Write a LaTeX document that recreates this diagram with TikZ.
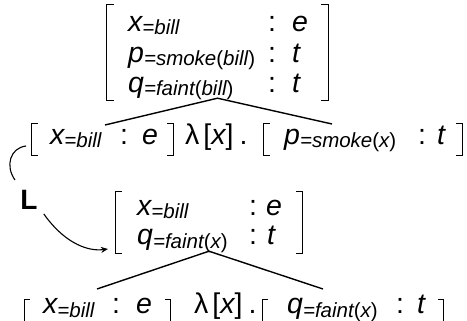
\documentclass[tikz,border=0pt]{standalone}
\usepackage{fontspec}
\setmainfont{Liberation Sans}
\usetikzlibrary{arrows.meta}
\newcommand\mfont{\fontsize{28.5}{30}\selectfont\itshape}
\newcommand\sbs[1]{\raisebox{-3pt}{\fontsize{20.5}{22}\selectfont\itshape #1}}
\newcommand\up[1]{{\upshape #1}}
\newcommand\lamx{\up{λ}\hspace{4pt}\up{[}x\up{]}\hspace{6pt}\up{.}}
\tikzset{
  txt/.style={font=\mfont, inner sep=0pt, anchor=base west},
  col/.style={font=\mfont, inner sep=0pt, anchor=base},
  brk/.style={line width=0.9pt},
  conn/.style={line width=1.4pt},
  box/.style={inner sep=0pt, draw=none},
}
\begin{document}
\begin{tikzpicture}[x=1pt,y=-1pt]
\useasboundingbox (0,0) rectangle (467,321);
% ---------- top record ----------
\node[box, minimum width=221pt, minimum height=95pt] (rec1) at (217.5,52.5) {};
\draw[brk] ([xshift=7pt]rec1.north west) -| (rec1.south west) -- ++(7,0);
\draw[brk] ([xshift=-7pt]rec1.north east) -| (rec1.south east) -- ++(-7,0);
\node[txt] (a1) at (128,32) {x\sbs{=bill}};
\node[txt] (a2) at (128,63) {p\sbs{=smoke\up{(}bill\up{)}}};
\node[txt] (a3) at (128,93) {q\sbs{=faint\up{(}bill\up{)}}};
\node[col] (a1c) at (272,32) {\up{:}};
\node[col] (a2c) at (272,63) {\up{:}};
\node[col] (a3c) at (272,93) {\up{:}};
\node[txt] (a1t) at (292,32) {e};
\node[txt] (a2t) at (292,63) {t};
\node[txt] (a3t) at (292,93) {t};
% ---------- second row ----------
\node[box, minimum width=141pt, minimum height=31pt] (rb) at (102.5,139.5) {};
\draw[brk] ([xshift=6pt]rb.north west) -| (rb.south west) -- ++(6,0);
\draw[brk] ([xshift=-6pt]rb.north east) -| (rb.south east) -- ++(-6,0);
\node[txt] (b1) at (50,145) {x\sbs{=bill}};
\node[col] (b1c) at (124,145) {\up{:}};
\node[txt] (b1t) at (142,145) {e};
\node[txt] (bl) at (185,145) {\lamx};
\node[box, minimum width=198pt, minimum height=31pt] (rp) at (363,139.5) {};
\draw[brk] ([xshift=6pt]rp.north west) -| (rp.south west) -- ++(6,0);
\draw[brk] ([xshift=-6pt]rp.north east) -| (rp.south east) -- ++(-6,0);
\node[txt] (b2) at (284,145) {p\sbs{=smoke\up{(}x\up{)}}};
\node[col] (b2c) at (422,145) {\up{:}};
\node[txt] (b2t) at (437,145) {t};
% connectors from top record
\coordinate (c1l) at (105,125);
\coordinate (c1r) at (332,124);
\draw[conn] (c1l) -- ([yshift=2pt]rec1.south) -- (c1r);
% ---------- L ----------
\coordinate (cs) at (26,146);
\coordinate (ce) at (15,180);
\draw[line width=1.1pt] (cs) .. controls (10,148) and (5,166) .. (ce);
\node[font=\fontsize{28}{30}\selectfont\bfseries, inner sep=0pt] (L) at (29,200) {L};
% ---------- middle record ----------
\node[box, minimum width=186pt, minimum height=61pt] (rec2) at (209,222.5) {};
\draw[brk] ([xshift=6pt]rec2.north west) -| (rec2.south west) -- ++(6,0);
\draw[brk] ([xshift=-6pt]rec2.north east) -| (rec2.south east) -- ++(-6,0);
\node[txt] (m1) at (137,215) {x\sbs{=bill}};
\node[txt] (m2) at (137,245) {q\sbs{=faint\up{(}x\up{)}}};
\node[col] (m1c) at (253,215) {\up{:}};
\node[col] (m2c) at (253,245) {\up{:}};
\node[txt] (m1t) at (266,215) {e};
\node[txt] (m2t) at (267,245) {t};
\coordinate (ae) at (108,249);
\draw[line width=1.1pt, -{Stealth[length=7pt,width=6pt]}] (L.south east) ++(6,4) .. controls (62,240) and (85,252) .. (ae);
% ---------- bottom row ----------
\node[box, minimum width=145pt, minimum height=31pt] (rc) at (97.5,315.5) {};
\draw[brk] ([xshift=5pt]rc.north west) -| (rc.south west) -- ++(5,0);
\draw[brk] ([xshift=-5pt]rc.north east) -| (rc.south east) -- ++(-5,0);
\node[txt] (d1) at (43,314) {x\sbs{=bill}};
\node[col] (d1c) at (116,314) {\up{:}};
\node[txt] (d1t) at (136,314) {e};
\node[txt] (dl) at (194,314) {\lamx};
\node[box, minimum width=180pt, minimum height=31pt] (rq) at (353,315.5) {};
\draw[brk] ([xshift=5pt]rq.north west) -| (rq.south west) -- ++(5,0);
\draw[brk] ([xshift=-5pt]rq.north east) -| (rq.south east) -- ++(-5,0);
\node[txt] (d2) at (287,314) {q\sbs{=faint\up{(}x\up{)}}};
\node[col] (d2c) at (400,314) {\up{:}};
\node[txt] (d2t) at (417,314) {t};
\coordinate (c2l) at (97,289);
\coordinate (c2r) at (323,289);
\draw[conn] (c2l) -- ([yshift=2pt]rec2.south) -- (c2r);
\end{tikzpicture}
\end{document}
